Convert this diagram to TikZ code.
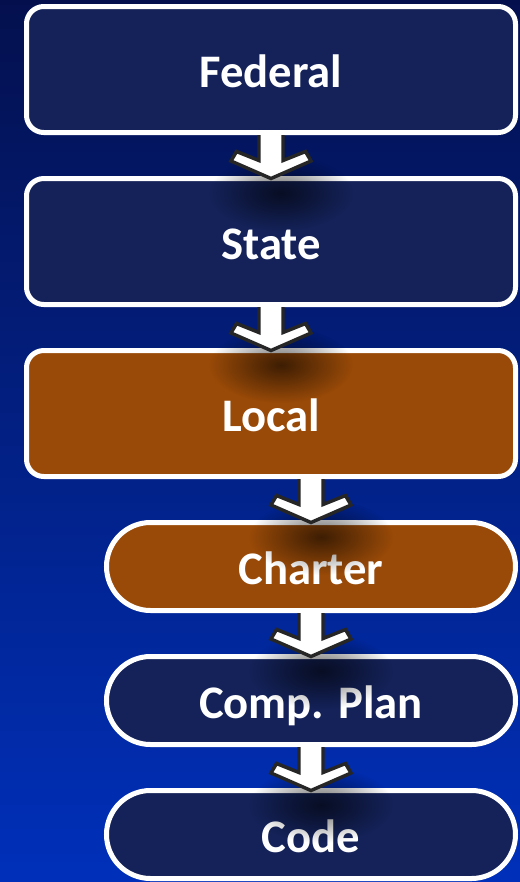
\documentclass[tikz,border=0pt]{standalone}
\usepackage{fontspec}
\setmainfont{Carlito}
\usetikzlibrary{positioning, calc, fadings}

\definecolor{tiernavy}{RGB}{20,34,89}
\definecolor{tierbrown}{RGB}{153,74,8}
\definecolor{bgtop}{RGB}{4,16,78}
\definecolor{bgbottom}{RGB}{0,48,186}
\definecolor{chevronline}{RGB}{38,38,38}

\tikzfading[name=blob fade, inner color=transparent!0, outer color=transparent!100]

% block arrow from the bottom of #1 to the top of #2
\newcommand{\tierarrow}[2]{%
  \fill[blob] ($(#2.north)+(10,-17)$) ellipse (72 and 38);
  \draw[chevron] ($(#2.north |- #1.south)+(12,0)$) -- ($(#2.north)+(12,15.5)$)
    -- ($(#2.north)+(34.5,24.5)$) -- ($(#2.north)+(40,15)$) -- ($(#2.north)+(0,-2.5)$)
    -- ($(#2.north)+(-40,15)$) -- ($(#2.north)+(-34.5,24.5)$) -- ($(#2.north)+(-12,15.5)$)
    -- ($(#2.north |- #1.south)+(-12,0)$);
}

\begin{document}
\begin{tikzpicture}[
    x=0.75pt, y=0.75pt,
    tier/.style={draw=white, line width=3.75pt, rounded corners=13pt, text=white,
      font=\bfseries\fontsize{35pt}{42pt}\selectfont, text height=27pt, text depth=0pt,
      inner sep=0pt, minimum width=366.75pt, minimum height=94.5pt},
    subtier/.style={tier, rounded corners=33pt, minimum width=306.75pt, minimum height=66pt},
    chevron/.style={draw=chevronline, fill=white, line width=2.6pt, line join=miter},
    blob/.style={black, fill opacity=0.6, path fading=blob fade},
    node distance=30.75pt
]

\shade[top color=bgtop, bottom color=bgbottom] (0,0) rectangle (520,-882);

% Nodes
\node[tier, fill=tiernavy] (federal) at (271,-69.5) {Federal};
\node[tier, fill=tiernavy, below=of federal] (state) {State};
\node[tier, fill=tierbrown, below=of state] (local) {Local};
\node[subtier, fill=tierbrown, below=of local.south east, anchor=north east] (charter) {Charter};
\node[subtier, fill=tiernavy, below=of charter] (compplan) {Comp. Plan};
\node[subtier, fill=tiernavy, below=of compplan] (code) {Code};

% Arrows
\tierarrow{federal}{state}
\tierarrow{state}{local}
\tierarrow{local}{charter}
\tierarrow{charter}{compplan}
\tierarrow{compplan}{code}

\end{tikzpicture}
\end{document}
